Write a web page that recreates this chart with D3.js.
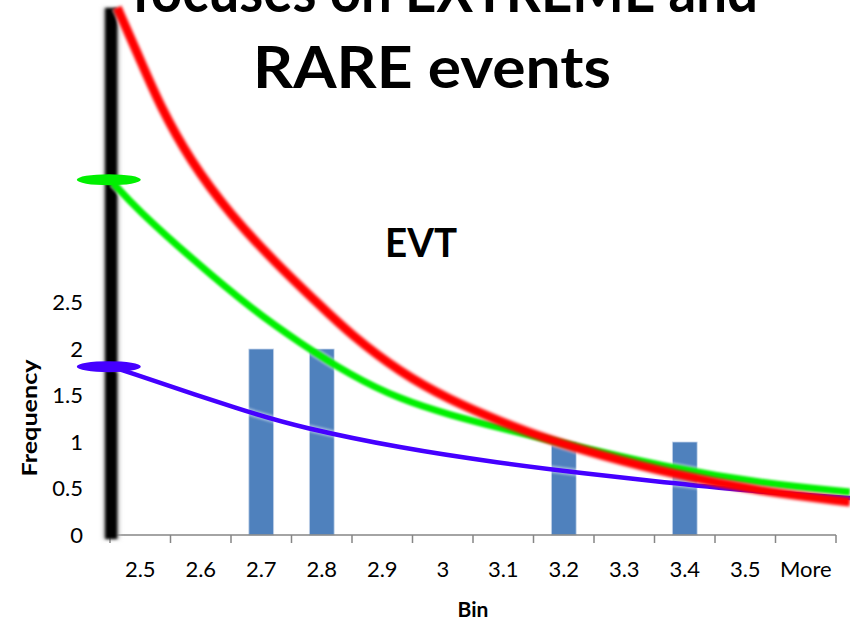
<!DOCTYPE html>
<html><head><meta charset="utf-8">
<script src="https://cdn.jsdelivr.net/npm/d3@7"></script>
<style>
html,body{margin:0;padding:0;background:#fff;}
svg{display:block;font-family:Lato,"Open Sans",sans-serif;}
</style></head>
<body>
<svg id="chart" width="850" height="621"></svg>
<script>
// ---- data ----
const categories = ["2.5","2.6","2.7","2.8","2.9","3","3.1","3.2","3.3","3.4","3.5","More"];
const frequency  = [0,0,2,2,0,0,0,1,0,1,0,0];
const yTicks = [0,0.5,1,1.5,2,2.5];
// overlaid distribution curves: [bin, frequency]
const redCurve = [[2.462,5.67],[2.500,5.11],[2.533,4.61],[2.582,4.03],[2.648,3.45],[2.726,2.91],[2.797,2.47],[2.847,2.16],[2.929,1.75],[3.012,1.45],[3.095,1.22],[3.177,1.02],[3.260,0.86],[3.376,0.66],[3.524,0.47],[3.673,0.355]];
const greenCurve = [[2.455,3.785],[2.495,3.50],[2.587,2.96],[2.686,2.42],[2.764,2.065],[2.847,1.72],[2.929,1.46],[3.012,1.29],[3.095,1.15],[3.177,1.02],[3.227,0.946],[3.376,0.72],[3.524,0.56],[3.673,0.462]];
const blueCurve = [[2.455,1.806],[2.681,1.312],[2.764,1.161],[2.929,0.935],[3.095,0.774],[3.227,0.667],[3.376,0.559],[3.524,0.462],[3.673,0.398]];
const startMarkers = [{curve:"green", value:3.82},{curve:"blue", value:1.81}];
const titleLines = ["focuses on EXTREME and","RARE events"];
const subTitle = "EVT";

// ---- scales ----
const svg = d3.select("#chart");
const left = 110, right = 836, bottom = 535;
const x = d3.scaleBand().domain(categories).range([left,right]).paddingInner(0).paddingOuter(0);
const xLin = d3.scaleLinear().domain([2.45, 3.65]).range([left,right]);
const y = d3.scaleLinear().domain([0,2.5]).range([bottom, bottom-232.5]);

const defs = svg.append("defs");
[["blur3",2.0],["blur2",1.5],["blur1",1.0],["blur05",0.6]].forEach(([id,s])=>{
  defs.append("filter").attr("id",id).attr("filterUnits","userSpaceOnUse")
    .attr("x",0).attr("y",0).attr("width",850).attr("height",621)
    .append("feGaussianBlur").attr("stdDeviation",s);
});

// bars
const bw = x.bandwidth()*0.41;
svg.append("g").selectAll("rect").data(categories.map((c,i)=>({c,v:frequency[i]})).filter(d=>d.v>0))
  .join("rect")
  .attr("x",d=>x(d.c)+x.bandwidth()/2-bw/2)
  .attr("y",d=>y(d.v))
  .attr("width",bw)
  .attr("height",d=>y(0)-y(d.v))
  .attr("fill","#4F81BD")
  .attr("stroke","#C6D5EA").attr("stroke-width",0.8);

// x axis line + boundary ticks
svg.append("line").attr("x1",left).attr("x2",right).attr("y1",bottom).attr("y2",bottom)
  .attr("stroke","#868686").attr("stroke-width",1.5);
const bounds = categories.map(c=>x(c)).concat([right]);
svg.append("g").selectAll("line").data(bounds).join("line")
  .attr("x1",d=>d).attr("x2",d=>d).attr("y1",bottom).attr("y2",bottom+8)
  .attr("stroke","#868686").attr("stroke-width",1.5);

// x labels
const xAxis = svg.append("g").attr("transform",`translate(0,${bottom})`)
  .call(d3.axisBottom(x).tickSize(0).tickPadding(26));
xAxis.select(".domain").remove();
xAxis.selectAll("text").attr("font-size",22).attr("fill","#000").attr("font-family","Lato");

// y labels
const yAxis = svg.append("g").attr("transform",`translate(${left},0)`)
  .call(d3.axisLeft(y).tickValues(yTicks).tickFormat(d3.format("~g")).tickSize(0).tickPadding(27));
yAxis.select(".domain").attr("stroke","#868686");
yAxis.selectAll("text").attr("font-size",22).attr("fill","#000").attr("font-family","Lato");

// axis titles
svg.append("text").attr("x",473).attr("y",617).attr("text-anchor","middle")
  .attr("font-weight","bold").attr("font-size",21).text("Bin");
svg.append("text").attr("transform","translate(37,418) rotate(-90)").attr("text-anchor","middle")
  .attr("font-weight","bold").attr("font-size",21).attr("textLength",117).attr("lengthAdjust","spacingAndGlyphs").text("Frequency");

// black vertical bar
const bx = xLin(2.452);
svg.append("rect").attr("x",bx-8).attr("y",8).attr("width",16).attr("height",531)
  .attr("fill","#bbb").attr("filter","url(#blur3)");
svg.append("rect").attr("x",bx-6).attr("y",8).attr("width",12).attr("height",531)
  .attr("fill","#000").attr("filter","url(#blur2)");

// curves
const line = d3.line().x(d=>xLin(d[0])).y(d=>y(d[1])).curve(d3.curveBasis);
const curves = [
  {data:blueCurve, color:"#4400FF", w:4.5, f:"blur05"},
  {data:greenCurve, color:"#00F000", w:7, f:"blur1"},
  {data:redCurve, color:"#FF0000", w:9, f:"blur2"}
];
curves.forEach(c=>{
  svg.append("path").attr("d",line(c.data)).attr("fill","none")
    .attr("stroke","#fff").attr("stroke-opacity",0.45).attr("stroke-width",c.w+3).attr("filter","url(#blur1)");
});
curves.forEach(c=>{
  svg.append("path").attr("d",line(c.data)).attr("fill","none")
    .attr("stroke",c.color).attr("stroke-width",c.w).attr("stroke-linecap","butt").attr("filter",`url(#${c.f})`);
});

// start markers (ellipses)
const mColor = {green:"#00F000", blue:"#4400FF"};
svg.append("g").selectAll("ellipse").data(startMarkers).join("ellipse")
  .attr("cx",xLin(2.448)).attr("cy",d=>y(d.value)).attr("rx",32).attr("ry",5.5)
  .attr("fill",d=>mColor[d.curve]).attr("filter","url(#blur05)");

// titles
svg.append("text").attr("x",445).attr("y",12).attr("text-anchor","middle")
  .attr("font-weight","bold").attr("font-size",60).attr("textLength",626).attr("lengthAdjust","spacingAndGlyphs")
  .text(titleLines[0]);
svg.append("text").attr("x",432).attr("y",88).attr("text-anchor","middle")
  .attr("font-weight","bold").attr("font-size",58).attr("textLength",358).attr("lengthAdjust","spacingAndGlyphs")
  .text(titleLines[1]);
svg.append("text").attr("x",421).attr("y",257).attr("text-anchor","middle")
  .attr("font-weight","bold").attr("font-size",41).attr("textLength",72).attr("lengthAdjust","spacingAndGlyphs")
  .text(subTitle);
</script>
</body></html>
